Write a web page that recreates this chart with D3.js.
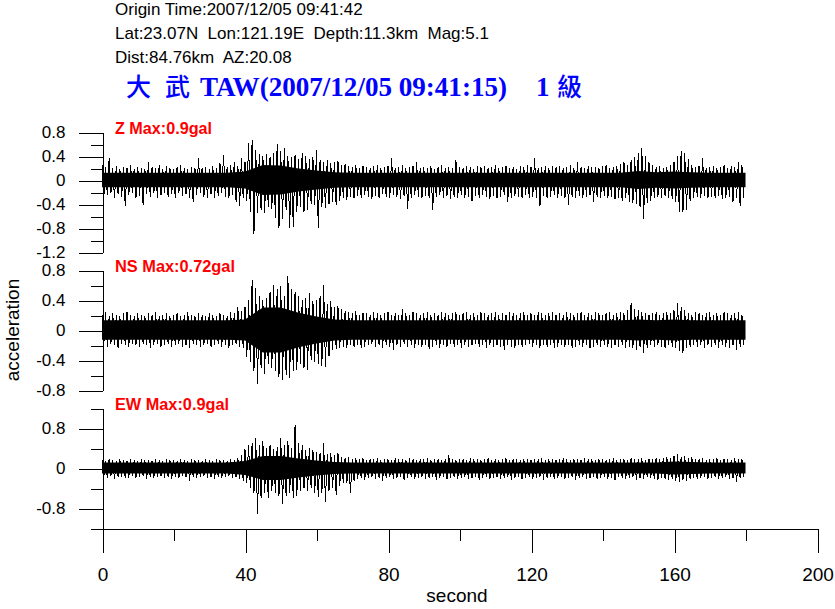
<!DOCTYPE html>
<html><head><meta charset="utf-8">
<script src="https://cdn.jsdelivr.net/npm/d3@7"></script>
<style>
html,body{margin:0;padding:0;background:#fff;}
svg{display:block;}
text{font-family:Arial,"Liberation Sans",sans-serif;}
</style></head><body>
<svg id="c" width="835" height="609"></svg>
<script>
// ---------- data ----------
const headerLines = ["Origin Time:2007/12/05 09:41:42", "Lat:23.07N  Lon:121.19E  Depth:11.3km  Mag:5.1", "Dist:84.76km  AZ:20.08"];
const titleParts = ["大", "武", "TAW(2007/12/05 09:41:15)", "1", "級"];
const channelLabels = ["Z Max:0.9gal", "NS Max:0.72gal", "EW Max:0.9gal"];
const xLabel = "second";
const yLabel = "acceleration";
const xTicks = [0, 40, 80, 120, 160, 200];
const xMinorTicks = [20, 60, 100, 140, 180];
const zTicks = [0.8, 0.4, 0, -0.4, -0.8, -1.2];
const zMinorTicks = [0.6, 0.2, -0.2, -0.6, -1.0];
const nsTicks = [0.8, 0.4, 0, -0.4, -0.8];
const nsMinorTicks = [0.6, 0.2, -0.2, -0.6];
const ewTicks = [0.8, 0, -0.8];
const ewMinorTicks = [1.2, 0.4, -0.4, -1.2];

// per-second positive / negative peaks (gal), t = 0..179 s
const zHi = [0.25,0.22,0.36,0.2,0.24,0.18,0.22,0.2,0.25,0.19, 0.22,0.2,0.18,0.3,0.22,0.2,0.25,0.18,0.23,0.2,
 0.18,0.22,0.25,0.2,0.18,0.22,0.2,0.36,0.2,0.22, 0.19,0.23,0.2,0.28,0.42,0.22,0.25,0.3,0.24,0.36,
 0.3,0.62,0.67,0.5,0.43,0.4,0.43,0.38,0.45,0.6, 0.48,0.53,0.4,0.38,0.42,0.35,0.45,0.4,0.35,0.38,
 0.5,0.33,0.3,0.33,0.28,0.3,0.32,0.25,0.27,0.24, 0.22,0.25,0.2,0.24,0.22,0.2,0.23,0.25,0.2,0.22,
 0.24,0.36,0.2,0.22,0.25,0.2,0.22,0.24,0.3,0.2, 0.22,0.2,0.24,0.19,0.22,0.25,0.2,0.22,0.2,0.33,
 0.22,0.2,0.24,0.22,0.19,0.23,0.21,0.24,0.2,0.22, 0.25,0.2,0.22,0.24,0.2,0.22,0.19,0.23,0.21,0.25,
 0.22,0.36,0.2,0.22,0.24,0.2,0.23,0.21,0.24,0.2, 0.22,0.25,0.2,0.3,0.22,0.2,0.24,0.21,0.22,0.2,
 0.23,0.25,0.2,0.22,0.24,0.27,0.3,0.25,0.33,0.38, 0.45,0.53,0.4,0.3,0.25,0.22,0.24,0.2,0.22,0.25,
 0.3,0.4,0.48,0.45,0.35,0.25,0.22,0.24,0.36,0.2, 0.22,0.24,0.2,0.22,0.25,0.2,0.24,0.22,0.3,0.25];
const zLo = [-0.3,-0.25,-0.22,-0.3,-0.24,-0.28,-0.43,-0.25,-0.22,-0.3, -0.26,-0.42,-0.24,-0.28,-0.22,-0.3,-0.25,-0.22,-0.28,-0.24,
 -0.3,-0.22,-0.26,-0.24,-0.3,-0.36,-0.25,-0.22,-0.28,-0.3, -0.24,-0.3,-0.26,-0.22,-0.28,-0.3,-0.25,-0.36,-0.44,-0.3,
 -0.35,-0.54,-0.9,-0.55,-0.5,-0.55,-0.45,-0.48,-0.64,-0.8, -0.65,-0.5,-0.8,-0.78,-0.53,-0.45,-0.53,-0.5,-0.4,-0.42,
 -0.8,-0.45,-0.47,-0.4,-0.36,-0.42,-0.35,-0.3,-0.33,-0.28, -0.3,-0.26,-0.3,-0.25,-0.28,-0.32,-0.26,-0.3,-0.24,-0.28,
 -0.3,-0.25,-0.28,-0.32,-0.26,-0.48,-0.3,-0.25,-0.28,-0.3, -0.26,-0.3,-0.5,-0.28,-0.25,-0.3,-0.26,-0.32,-0.28,-0.3,
 -0.25,-0.3,-0.28,-0.35,-0.26,-0.3,-0.25,-0.28,-0.32,-0.26, -0.3,-0.28,-0.25,-0.36,-0.3,-0.26,-0.28,-0.3,-0.25,-0.3,
 -0.28,-0.3,-0.44,-0.26,-0.3,-0.28,-0.25,-0.3,-0.26,-0.3, -0.42,-0.28,-0.3,-0.26,-0.3,-0.28,-0.25,-0.36,-0.28,-0.3,
 -0.26,-0.3,-0.28,-0.32,-0.3,-0.35,-0.3,-0.36,-0.38,-0.4, -0.45,-0.65,-0.38,-0.35,-0.3,-0.28,-0.3,-0.26,-0.3,-0.32,
 -0.36,-0.54,-0.54,-0.5,-0.35,-0.3,-0.28,-0.3,-0.26,-0.3, -0.28,-0.3,-0.26,-0.32,-0.3,-0.28,-0.36,-0.3,-0.44,-0.3];
const nsHi = [0.2,0.24,0.18,0.22,0.2,0.18,0.22,0.24,0.2,0.18, 0.22,0.2,0.18,0.22,0.2,0.24,0.18,0.2,0.22,0.18,
 0.2,0.22,0.18,0.2,0.24,0.2,0.18,0.22,0.2,0.18, 0.22,0.2,0.18,0.22,0.2,0.18,0.24,0.22,0.3,0.25,
 0.31,0.4,0.67,0.56,0.45,0.4,0.42,0.5,0.6,0.55, 0.58,0.45,0.72,0.55,0.5,0.45,0.4,0.42,0.49,0.38,
 0.4,0.45,0.6,0.35,0.38,0.3,0.32,0.28,0.25,0.24, 0.22,0.25,0.2,0.23,0.22,0.2,0.24,0.22,0.2,0.22,
 0.24,0.2,0.22,0.2,0.28,0.22,0.2,0.24,0.22,0.2, 0.22,0.24,0.2,0.22,0.2,0.24,0.22,0.2,0.22,0.24,
 0.2,0.22,0.24,0.2,0.22,0.2,0.24,0.22,0.2,0.22, 0.24,0.2,0.22,0.2,0.24,0.22,0.2,0.22,0.24,0.2,
 0.22,0.2,0.24,0.22,0.2,0.22,0.24,0.2,0.22,0.2, 0.24,0.22,0.2,0.22,0.24,0.2,0.22,0.2,0.24,0.22,
 0.2,0.22,0.24,0.2,0.22,0.24,0.22,0.26,0.36,0.28, 0.26,0.24,0.22,0.2,0.22,0.24,0.2,0.22,0.24,0.22,
 0.26,0.36,0.3,0.26,0.22,0.2,0.24,0.22,0.2,0.22, 0.24,0.2,0.22,0.2,0.24,0.22,0.2,0.22,0.24,0.2];
const nsLo = [-0.2,-0.22,-0.18,-0.2,-0.24,-0.18,-0.2,-0.22,-0.18,-0.2, -0.22,-0.18,-0.2,-0.24,-0.2,-0.18,-0.22,-0.2,-0.18,-0.22,
 -0.2,-0.18,-0.22,-0.2,-0.24,-0.18,-0.2,-0.22,-0.2,-0.18, -0.22,-0.2,-0.18,-0.22,-0.2,-0.24,-0.2,-0.18,-0.22,-0.24,
 -0.36,-0.42,-0.55,-0.72,-0.5,-0.58,-0.45,-0.5,-0.55,-0.62, -0.66,-0.6,-0.64,-0.55,-0.53,-0.45,-0.5,-0.53,-0.4,-0.42,
 -0.45,-0.48,-0.49,-0.35,-0.27,-0.25,-0.24,-0.22,-0.24,-0.2, -0.22,-0.2,-0.24,-0.22,-0.2,-0.18,-0.22,-0.2,-0.24,-0.2,
 -0.22,-0.27,-0.2,-0.22,-0.18,-0.22,-0.2,-0.24,-0.2,-0.22, -0.2,-0.25,-0.22,-0.2,-0.24,-0.2,-0.22,-0.18,-0.22,-0.2,
 -0.24,-0.2,-0.22,-0.2,-0.18,-0.22,-0.2,-0.24,-0.2,-0.22, -0.2,-0.22,-0.26,-0.2,-0.22,-0.24,-0.2,-0.22,-0.2,-0.18,
 -0.22,-0.2,-0.24,-0.2,-0.22,-0.2,-0.24,-0.22,-0.2,-0.22, -0.2,-0.24,-0.22,-0.2,-0.22,-0.2,-0.24,-0.22,-0.2,-0.22,
 -0.2,-0.22,-0.24,-0.2,-0.22,-0.2,-0.24,-0.22,-0.24,-0.26, -0.22,-0.3,-0.24,-0.2,-0.22,-0.2,-0.22,-0.24,-0.2,-0.22,
 -0.24,-0.28,-0.3,-0.24,-0.22,-0.2,-0.22,-0.2,-0.24,-0.2, -0.22,-0.2,-0.24,-0.2,-0.22,-0.24,-0.2,-0.26,-0.22,-0.2];
const ewHi = [0.16,0.14,0.18,0.15,0.13,0.17,0.15,0.14,0.18,0.15, 0.14,0.17,0.15,0.16,0.14,0.18,0.15,0.14,0.17,0.15,
 0.16,0.14,0.18,0.15,0.14,0.17,0.15,0.16,0.14,0.18, 0.15,0.14,0.17,0.15,0.16,0.14,0.18,0.15,0.2,0.25,
 0.37,0.45,0.5,0.6,0.45,0.53,0.4,0.45,0.38,0.42, 0.6,0.45,0.53,0.4,0.85,0.5,0.45,0.35,0.4,0.35,
 0.32,0.3,0.49,0.28,0.3,0.25,0.3,0.22,0.2,0.22, 0.18,0.2,0.17,0.19,0.16,0.18,0.17,0.2,0.16,0.18,
 0.17,0.16,0.19,0.17,0.18,0.16,0.2,0.17,0.16,0.18, 0.17,0.19,0.16,0.18,0.17,0.16,0.18,0.25,0.17,0.16,
 0.18,0.17,0.16,0.19,0.17,0.18,0.16,0.17,0.19,0.16, 0.18,0.16,0.17,0.19,0.16,0.18,0.17,0.16,0.18,0.17,
 0.16,0.18,0.17,0.19,0.16,0.17,0.18,0.16,0.17,0.19, 0.17,0.16,0.18,0.17,0.16,0.19,0.17,0.18,0.16,0.17,
 0.18,0.16,0.17,0.19,0.16,0.18,0.17,0.16,0.2,0.18, 0.17,0.19,0.16,0.18,0.17,0.2,0.18,0.2,0.22,0.2,
 0.24,0.27,0.22,0.24,0.2,0.22,0.18,0.17,0.19,0.16, 0.18,0.17,0.2,0.16,0.18,0.17,0.16,0.2,0.18,0.17];
const ewLo = [-0.18,-0.2,-0.16,-0.22,-0.18,-0.17,-0.2,-0.19,-0.16,-0.2, -0.18,-0.16,-0.21,-0.18,-0.2,-0.17,-0.16,-0.2,-0.18,-0.22,
 -0.17,-0.2,-0.16,-0.18,-0.25,-0.17,-0.2,-0.18,-0.16,-0.2, -0.18,-0.22,-0.17,-0.2,-0.18,-0.16,-0.2,-0.18,-0.22,-0.25,
 -0.3,-0.4,-0.5,-0.91,-0.6,-0.5,-0.6,-0.45,-0.5,-0.55, -0.72,-0.55,-0.5,-0.6,-0.55,-0.45,-0.4,-0.45,-0.4,-0.5,
 -0.57,-0.5,-0.67,-0.45,-0.4,-0.53,-0.35,-0.3,-0.3,-0.49, -0.25,-0.22,-0.2,-0.24,-0.2,-0.18,-0.22,-0.2,-0.25,-0.2,
 -0.18,-0.22,-0.2,-0.18,-0.24,-0.2,-0.18,-0.22,-0.2,-0.18, -0.22,-0.2,-0.18,-0.24,-0.2,-0.18,-0.22,-0.2,-0.18,-0.22,
 -0.2,-0.18,-0.22,-0.2,-0.18,-0.24,-0.2,-0.18,-0.22,-0.2, -0.18,-0.22,-0.2,-0.18,-0.24,-0.2,-0.18,-0.22,-0.2,-0.18,
 -0.22,-0.2,-0.18,-0.24,-0.2,-0.18,-0.22,-0.2,-0.18,-0.22, -0.2,-0.18,-0.24,-0.2,-0.18,-0.22,-0.2,-0.18,-0.22,-0.2,
 -0.18,-0.22,-0.2,-0.24,-0.18,-0.2,-0.22,-0.2,-0.18,-0.24, -0.2,-0.22,-0.18,-0.2,-0.22,-0.24,-0.2,-0.22,-0.24,-0.22,
 -0.26,-0.28,-0.24,-0.26,-0.22,-0.2,-0.22,-0.2,-0.18,-0.22, -0.2,-0.18,-0.22,-0.2,-0.18,-0.22,-0.2,-0.28,-0.2,-0.18];

// dense-core half-width (gal) every 5 s, t = 0..180
const zCore  = [0.12,0.12,0.12,0.12,0.12,0.12,0.12,0.12,0.14,0.25,0.24,0.19,0.16,0.13,0.12,0.12,0.12,0.12,0.12,0.12,0.12,0.12,0.12,0.12,0.12,0.12,0.12,0.12,0.12,0.12,0.15,0.13,0.14,0.13,0.12,0.12,0.12];
const nsCore = [0.13,0.13,0.13,0.13,0.13,0.13,0.13,0.13,0.14,0.3,0.3,0.23,0.18,0.14,0.13,0.13,0.13,0.13,0.13,0.13,0.13,0.13,0.13,0.13,0.13,0.13,0.13,0.13,0.13,0.13,0.14,0.13,0.14,0.13,0.13,0.13,0.13];
const ewCore = [0.11,0.11,0.11,0.11,0.11,0.11,0.11,0.11,0.14,0.24,0.24,0.19,0.15,0.12,0.11,0.11,0.11,0.11,0.11,0.11,0.11,0.11,0.11,0.11,0.11,0.11,0.11,0.11,0.11,0.11,0.11,0.11,0.13,0.12,0.11,0.11,0.11];

// ---------- drawing ----------
const svg = d3.select("#c");
const x = d3.scaleLinear().domain([0, 200]).range([102, 817]);

// header
svg.selectAll("text.hdr").data(headerLines).join("text")
  .attr("class", "hdr")
  .attr("x", 115).attr("y", (d, i) => 15 + i * 24)
  .style("white-space", "pre")
  .attr("font-size", 17).attr("fill", "#000")
  .text(d => d);

// title
const titleX = [126, 165, 200, 536, 557];
const isCJK = i => (i === 0 || i === 1 || i === 4);
svg.selectAll("text.ttl").data(titleParts).join("text")
  .attr("class", "ttl")
  .attr("x", (d, i) => titleX[i]).attr("y", 96)
  .attr("fill", "#0000ff")
  .style("font-family", (d, i) => isCJK(i) ? "'Noto Sans CJK TC','Noto Sans CJK SC',serif" : "'Liberation Serif','Times New Roman',serif")
  .attr("font-weight", (d, i) => isCJK(i) ? 500 : 700)
  .attr("font-size", (d, i) => isCJK(i) ? 25 : 27)
  .each(function (d, i) { if (i === 2) d3.select(this).attr("textLength", 307).attr("lengthAdjust", "spacingAndGlyphs"); })
  .text(d => d);

const panels = [
  { label: channelLabels[0], hi: zHi, lo: zLo, core: zCore, domain: [-1.2, 0.8], range: [252, 132], ticks: zTicks, minor: zMinorTicks, lw: 97 },
  { label: channelLabels[1], hi: nsHi, lo: nsLo, core: nsCore, domain: [-0.8, 0.8], range: [390, 270], ticks: nsTicks, minor: nsMinorTicks, lw: 120 },
  { label: channelLabels[2], hi: ewHi, lo: ewLo, core: ewCore, domain: [-1.2, 1.2], range: [528, 408], ticks: ewTicks, minor: ewMinorTicks, lw: 114 }
];

const fmt = v => String(+v.toFixed(1));

panels.forEach(p => {
  const y = d3.scaleLinear().domain(p.domain).range(p.range);
  const g = svg.append("g");

  // dense core
  const coreT = p.core.map((c, i) => i * 5);
  g.append("path")
    .datum(p.core)
    .attr("d", d3.area().x((d, i) => x(coreT[i])).y0(d => y(-d)).y1(d => y(d)))
    .attr("fill", "#000");

  // peaks zigzag
  const pts = [];
  p.hi.forEach((h, i) => { pts.push([i, h]); pts.push([i + 0.5, p.lo[i]]); });
  g.append("path")
    .datum(pts)
    .attr("d", d3.line().x(d => x(d[0])).y(d => y(d[1])))
    .attr("fill", "none").attr("stroke", "#000").attr("stroke-width", 1)
    .attr("shape-rendering", "crispEdges");

  // axis
  const minorAx = d3.axisLeft(y).tickValues(p.minor).tickSize(12).tickSizeOuter(0).tickFormat("");
  const majorAx = d3.axisLeft(y).tickValues(p.ticks).tickSize(24).tickSizeOuter(0).tickPadding(13).tickFormat(fmt);
  const ga = g.append("g").attr("transform", "translate(102.5,0.5)");
  ga.call(minorAx);
  const gb = g.append("g").attr("transform", "translate(102.5,0.5)");
  gb.call(majorAx);
  [ga, gb].forEach(a => {
    a.selectAll("path,line").attr("stroke", "#000").attr("shape-rendering", "crispEdges");
  });
  gb.selectAll("text").attr("font-size", 17).attr("fill", "#000")
    .style("font-family", "Arial,'Liberation Sans',sans-serif");

  // channel label
  g.append("text")
    .attr("x", 115).attr("y", p.range[1] + 2)
    .attr("fill", "#ff0000").attr("font-weight", 700).attr("font-size", 16)
    .attr("textLength", p.lw).attr("lengthAdjust", "spacingAndGlyphs")
    .text(p.label);
});

// x axis
const xa = svg.append("g").attr("transform", "translate(0.5,528.5)");
xa.call(d3.axisBottom(x).tickValues(xMinorTicks).tickSize(12).tickSizeOuter(0).tickFormat(""));
const xb = svg.append("g").attr("transform", "translate(0.5,528.5)");
xb.call(d3.axisBottom(x).tickValues(xTicks).tickSize(24).tickSizeOuter(0).tickPadding(15).tickFormat(d3.format("d")));
[xa, xb].forEach(a => a.selectAll("path,line").attr("stroke", "#000").attr("shape-rendering", "crispEdges"));
xb.selectAll("text").attr("font-size", 19).attr("fill", "#000")
  .style("font-family", "Arial,'Liberation Sans',sans-serif");

// axis titles
svg.append("text").attr("x", 457).attr("y", 602).attr("text-anchor", "middle")
  .attr("font-size", 19).text(xLabel);
svg.append("text").attr("transform", "translate(19,330) rotate(-90)").attr("text-anchor", "middle")
  .attr("font-size", 19).text(yLabel);
</script>
</body></html>
